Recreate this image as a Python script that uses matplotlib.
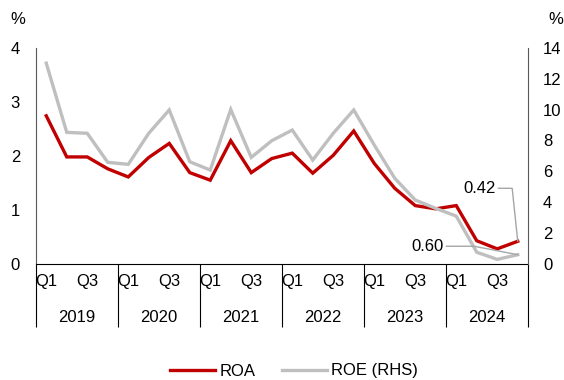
import matplotlib
matplotlib.use("Agg")
import matplotlib.pyplot as plt
import numpy as np

plt.rcParams['font.family'] = ['Liberation Sans', 'DejaVu Sans']
plt.rcParams['font.size'] = 12

# Quarterly data, 2019Q1 - 2024Q4
years = ["2019", "2020", "2021", "2022", "2023", "2024"]
quarter_labels = ["Q1", "", "Q3", ""]
roa = [2.74, 1.98, 1.98, 1.76, 1.61, 1.97, 2.23, 1.69,
       1.55, 2.28, 1.69, 1.95, 2.05, 1.68, 2.01, 2.46,
       1.86, 1.40, 1.08, 1.02, 1.08, 0.43, 0.28, 0.42]
roe = [13.0, 8.52, 8.46, 6.58, 6.45, 8.46, 9.97, 6.62,
       6.08, 10.0, 6.90, 7.98, 8.67, 6.73, 8.46, 9.97,
       7.70, 5.55, 4.14, 3.60, 3.10, 0.76, 0.30, 0.60]

RED = "#C00000"
GREY = "#BFBFBF"
W, H = 564, 380
FS = 12

fig = plt.figure(figsize=(W / 100, H / 100), dpi=100)
ax = fig.add_axes([36 / W, (H - 264) / H, (528 - 36) / W, (264 - 47.7) / H])
ax2 = ax.twinx()

x = np.arange(len(roa))
l1, = ax.plot(x, roa, color=RED, lw=2.4, solid_joinstyle='miter', label="ROA")
l2, = ax2.plot(x, roe, color=GREY, lw=2.4, solid_joinstyle='miter', label="ROE (RHS)")

ax.set_xlim(-0.5, len(roa) - 0.5)
ax.set_ylim(0, 4)
ax2.set_ylim(0, 14)
ax.set_yticks(np.arange(0, 5, 1))
ax2.set_yticks(np.arange(0, 15, 2))
ax.tick_params(axis='y', length=0, pad=11.5, labelsize=FS)
ax2.tick_params(axis='y', length=0, pad=10.8, labelsize=FS)

for a in (ax, ax2):
    a.spines['top'].set_visible(False)
    a.spines['left'].set_color('#595959')
    a.spines['right'].set_color('#595959')
    a.spines['bottom'].set_color('black')
ax2.spines['left'].set_visible(False)
ax2.spines['bottom'].set_visible(False)
ax.spines['right'].set_visible(False)

# Year separators as long major ticks, quarter labels as minor tick labels
n_years = len(years)
ax.set_xticks(np.arange(n_years + 1) * 4 - 0.5)
ax.set_xticklabels([])
ax.tick_params(axis='x', which='major', length=45.5, width=0.8, color='black', direction='out')
ax.set_xticks(x, minor=True)
ax.set_xticklabels(quarter_labels * n_years, minor=True)
ax.tick_params(axis='x', which='minor', length=0, pad=7.5, labelsize=FS)

for i, yr in enumerate(years):
    ax.text(i * 4 + 1.5, -53.6 / 216.3, yr, transform=ax.get_xaxis_transform(),
            ha='center', va='center', fontsize=FS)

# Unit labels
fig.text(18 / W, 1 - 20 / H, "%", ha='center', va='center', fontsize=FS)
fig.text(556 / W, 1 - 20 / H, "%", ha='center', va='center', fontsize=FS)

# Latest-value callouts
ax.annotate(f"{roa[-1]:.2f}", xy=(x[-1], roa[-1]), xytext=(-38.5, 53),
            textcoords='offset pixels', ha='center', va='center', fontsize=FS,
            arrowprops=dict(arrowstyle='-', color='#A6A6A6', lw=1,
                            connectionstyle='angle,angleA=0,angleB=96,rad=0',
                            shrinkA=0, shrinkB=0))
ax2.annotate(f"{roe[-1]:.2f}", xy=(x[-1], roe[-1]), xytext=(-90.5, 8.5),
             textcoords='offset pixels', ha='center', va='center', fontsize=FS,
             arrowprops=dict(arrowstyle='-', color='#A6A6A6', lw=1,
                             connectionstyle='angle,angleA=0,angleB=169,rad=0',
                             shrinkA=0, shrinkB=0))

fig.legend(handles=[l1, l2], loc='center', bbox_to_anchor=(294 / W, 1 - 371 / H),
           ncol=2, frameon=False, fontsize=FS, handlelength=2.7,
           handletextpad=0.25, columnspacing=1.6)

fig.savefig("out.png", dpi=100)
